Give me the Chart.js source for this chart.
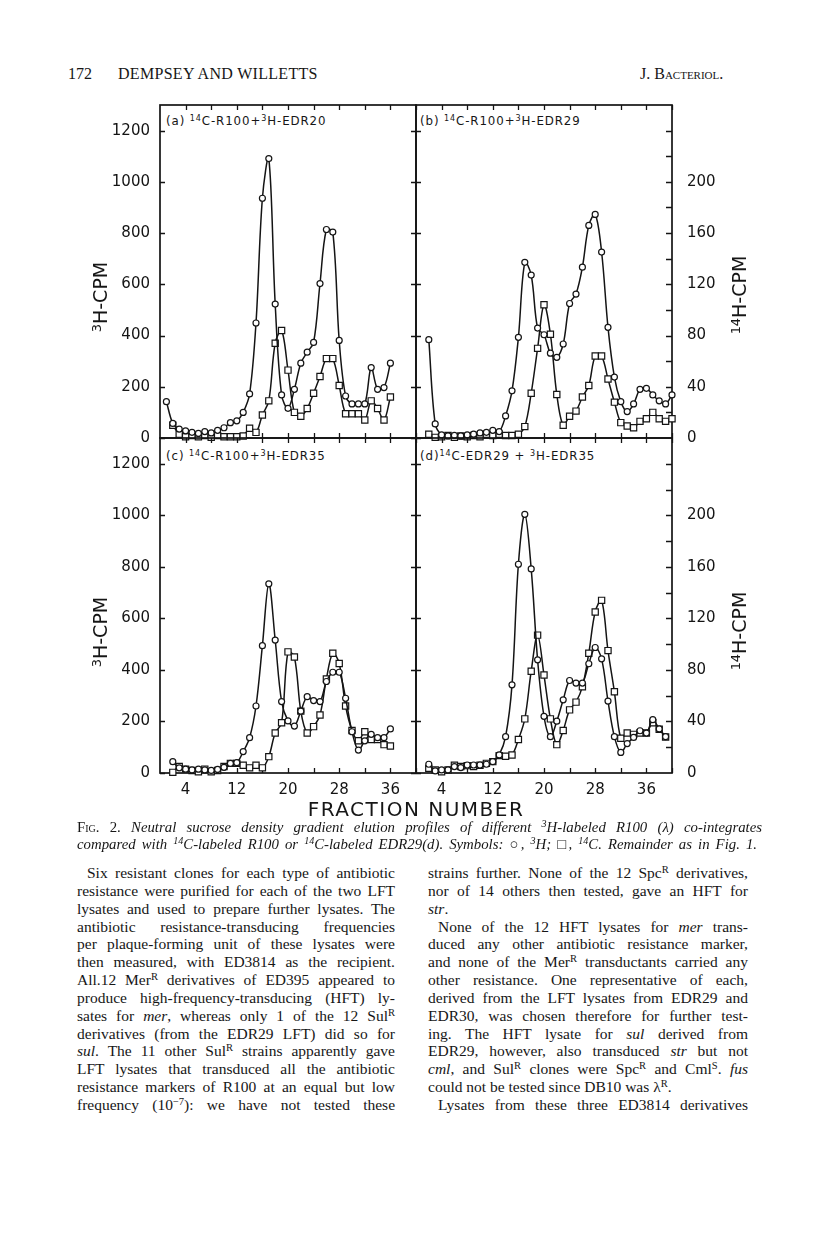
<!DOCTYPE html>
<html>
<head>
<meta charset="utf-8">
<script src="https://cdn.jsdelivr.net/npm/chart.js@4.4.1/dist/chart.umd.min.js"></script>
<style>
  body { margin: 0; background: #fff; }
  #page { position: relative; width: 816px; height: 1234px; color: #161616; font-family: 'Liberation Serif', serif; overflow: hidden; }
  canvas { position: absolute; }
  .abs { position: absolute; white-space: nowrap; z-index: 2; }
  sup { font-size: 0.68em; line-height: 0; vertical-align: 0.5em; }
  .hdr { font-size: 16px; top: 65px; }
  .plab { font-family: 'DejaVu Sans', sans-serif; font-size: 11.8px; letter-spacing: 0.9px; background: #fff; padding: 0 1px; }
  .ytitle { font-family: 'DejaVu Sans', sans-serif; font-size: 19px; transform: rotate(-90deg); transform-origin: center; }
  .xtitle { font-family: 'DejaVu Sans', sans-serif; font-size: 20px; letter-spacing: 1.5px; left: 300px; width: 232px; top: 797px; text-align: center; }
  .cap { left: 77px; width: 685px; font-size: 14.8px; font-style: italic; text-align: justify; text-align-last: justify; }
  .sc { font-style: normal; font-variant: small-caps; }
  .col { position: absolute; top: 864px; font-size: 15.5px; line-height: 17.85px; }
  .ln { white-space: nowrap; text-align: justify; text-align-last: justify; }
  .ln.end { text-align-last: left; }
  .ln.ind { padding-left: 10px; }
</style>
</head>
<body>
<div id="page">
  <div class="abs hdr" style="left:68px;">172</div>
  <div class="abs hdr" style="left:118px; letter-spacing:0.3px;">DEMPSEY AND WILLETTS</div>
  <div class="abs hdr" style="left:640px; font-variant:small-caps;">J. Bacteriol.</div>

  <div class="abs plab" style="left:165px; top:114px;">(a) <sup>14</sup>C-R100+<sup>3</sup>H-EDR20</div>
  <div class="abs plab" style="left:419px; top:114px;">(b) <sup>14</sup>C-R100+<sup>3</sup>H-EDR29</div>
  <div class="abs plab" style="left:165px; top:449px;">(c) <sup>14</sup>C-R100+<sup>3</sup>H-EDR35</div>
  <div class="abs plab" style="left:419px; top:449px;">(d)<sup>14</sup>C-EDR29 + <sup>3</sup>H-EDR35</div>

  <div class="abs ytitle" style="left:64px; top:286px; width:72px; text-align:center;"><sup>3</sup>H-CPM</div>
  <div class="abs ytitle" style="left:64px; top:621px; width:72px; text-align:center;"><sup>3</sup>H-CPM</div>
  <div class="abs ytitle" style="left:699px; top:284px; width:80px; text-align:center;"><sup>14</sup>H-CPM</div>
  <div class="abs ytitle" style="left:699px; top:620px; width:80px; text-align:center;"><sup>14</sup>H-CPM</div>

  <div class="abs xtitle">FRACTION NUMBER</div>

  <div class="abs cap" style="top:819px;"><span class="sc">Fig. 2.</span> Neutral sucrose density gradient elution profiles of different <sup>3</sup>H-labeled R100 (λ) co-integrates</div>
  <div class="abs cap" style="top:836px; width:680px;">compared with <sup>14</sup>C-labeled R100 or <sup>14</sup>C-labeled EDR29(d). Symbols: <span style="font-style:normal">○</span>, <sup>3</sup>H; <span style="font-style:normal">□</span>, <sup>14</sup>C. Remainder as in Fig. 1.</div>

  <div class="col" style="left:77px; width:318px;">
    <div class="ln ind">Six resistant clones for each type of antibiotic</div>
    <div class="ln">resistance were purified for each of the two LFT</div>
    <div class="ln">lysates and used to prepare further lysates. The</div>
    <div class="ln">antibiotic resistance-transducing frequencies</div>
    <div class="ln">per plaque-forming unit of these lysates were</div>
    <div class="ln">then measured, with ED3814 as the recipient.</div>
    <div class="ln">All.12 Mer<sup>R</sup> derivatives of ED395 appeared to</div>
    <div class="ln">produce high-frequency-transducing (HFT) ly-</div>
    <div class="ln">sates for <i>mer</i>, whereas only 1 of the 12 Sul<sup>R</sup></div>
    <div class="ln">derivatives (from the EDR29 LFT) did so for</div>
    <div class="ln"><i>sul</i>. The 11 other Sul<sup>R</sup> strains apparently gave</div>
    <div class="ln">LFT lysates that transduced all the antibiotic</div>
    <div class="ln">resistance markers of R100 at an equal but low</div>
    <div class="ln">frequency (10<sup>−7</sup>): we have not tested these</div>
  </div>
  <div class="col" style="left:428px; width:320px;">
    <div class="ln">strains further. None of the 12 Spc<sup>R</sup> derivatives,</div>
    <div class="ln">nor of 14 others then tested, gave an HFT for</div>
    <div class="ln end"><i>str</i>.</div>
    <div class="ln ind">None of the 12 HFT lysates for <i>mer</i> trans-</div>
    <div class="ln">duced any other antibiotic resistance marker,</div>
    <div class="ln">and none of the Mer<sup>R</sup> transductants carried any</div>
    <div class="ln">other resistance. One representative of each,</div>
    <div class="ln">derived from the LFT lysates from EDR29 and</div>
    <div class="ln">EDR30, was chosen therefore for further test-</div>
    <div class="ln">ing. The HFT lysate for <i>sul</i> derived from</div>
    <div class="ln">EDR29, however, also transduced <i>str</i> but not</div>
    <div class="ln"><i>cml</i>, and Sul<sup>R</sup> clones were Spc<sup>R</sup> and Cml<sup>S</sup>. <i>fus</i></div>
    <div class="ln end">could not be tested since DB10 was λ<sup>R</sup>.</div>
    <div class="ln ind">Lysates from these three ED3814 derivatives</div>
  </div>
</div>

<script>
// Fraction numbers and counts
const fracA = [1,2,3,4,5,6,7,8,9,10,11,12,13,14,15,16,17,18,19,20,21,22,23,24,25,26,27,28,29,30,31,32,33,34,35,36];
const h3A = [142,57,35,28,22,18,25,20,30,40,60,67,100,172,449,936,1091,523,168,116,190,292,335,373,603,814,804,381,164,133,133,133,275,190,197,292];
const c14A = [null,10,3,1,2,1,2,0.5,2,1,1,1,1.5,7.6,4.4,18,29,74,84,53,20,17,23,35,48,62,62,41,19,19,19,14,29,23,14,32];

const fracB = [2,3,4,5,6,7,8,9,10,11,12,13,14,15,16,17,18,19,20,21,22,23,24,25,26,27,28,29,30,31,32,33,34,35,36,37,38,39,40];
const h3B = [384,55,12,8,10,8,12,15,20,22,30,25,86,184,393,686,636,429,403,331,315,367,525,562,667,830,873,726,432,238,142,103,133,190,194,168,145,133,168];
const c14B = [2.9,0.5,1,2,0.5,1.5,1,2,1,3,2,3,2,2,2.9,8.9,35,70,104,81,34,10,17,21,32,41,64,64,46,28,12,9.4,8,13,15,20,15,13,15];

const fracC = [2,3,4,5,6,7,8,9,10,11,12,13,14,15,16,17,18,19,20,21,22,23,24,25,26,27,28,29,30,31,32,33,34,35,36];
const h3C = [44,20,15,12,15,12,10,14,22,37,40,83,137,260,494,734,516,277,202,182,240,296,281,277,355,391,391,290,160,89,125,150,137,137,171];
const c14C = [0.5,5,3,2,1,3,1,2,5,7.5,7.5,6,4,6,4,12.7,31,39,94,90,48,31,36,45,73,93,85,52,33,25,32,26,26,22,21];

const fracD = [2,3,4,5,6,7,8,9,10,11,12,13,14,15,16,17,18,19,20,21,22,23,24,25,26,27,28,29,30,31,32,33,34,35,36,37,38,39];
const h3D = [34,8,12,12,25,21,31,31,31,34,44,70,141,342,810,1004,792,439,220,141,201,284,359,349,349,424,487,443,279,141,80,114,138,164,155,207,171,141];
const c14D = [3.6,2.3,1,2.3,6,5,5.7,5,6,7.5,8.8,13.5,13,14,26,42,79,107,76,42,22,33,49,55,67,93,125,134,95,63,27,31,30,31,31,39,34,28];

// Axis ticks
const xTickLabels = [4,12,20,28,36];
const xEdgeTicks = [4,8,12,16,20,24,28,32,36,40];
const h3Ticks = [0,200,400,600,800,1000,1200];
const c14Ticks = [0,40,80,120,160,200];
const c14EdgeTicks = [20,40,60,80,100,120,140,160,180,200,220,240];

const INK = '#141414';
const PLOT = { left: 160, mid: 416, right: 672, top: 105, midY: 438, bottom: 773 };

function points(frac, vals) {
    return frac.map((f, i) => ({ x: f, y: vals[i] })).filter(p => p.y !== null);
}

// Border box and inward tick marks, placed from the chart's own scales
const framePlugin = {
    id: 'frame',
    beforeDatasetsDraw(chart, args, opts) {
        const { ctx, chartArea: a, scales } = chart;
        ctx.save();
        ctx.strokeStyle = INK;
        ctx.lineWidth = 1.7;
        ctx.strokeRect(a.left, a.top, a.right - a.left, a.bottom - a.top);
        ctx.lineWidth = 1.3;
        ctx.beginPath();
        xEdgeTicks.forEach(v => {
            const x = Math.round(scales.x.getPixelForValue(v)) + 0.5;
            ctx.moveTo(x, a.bottom); ctx.lineTo(x, a.bottom - 5);
            ctx.moveTo(x, a.top); ctx.lineTo(x, a.top + 5);
        });
        h3Ticks.forEach(v => {
            const y = Math.round(scales.y.getPixelForValue(v)) + 0.5;
            ctx.moveTo(a.left, y); ctx.lineTo(a.left + 5, y);
            if (!opts.rightAxis) { ctx.moveTo(a.right, y); ctx.lineTo(a.right - 5, y); }
        });
        if (opts.rightAxis) {
            c14EdgeTicks.forEach(v => {
                const y = Math.round(scales.y2.getPixelForValue(v)) + 0.5;
                ctx.moveTo(a.right, y); ctx.lineTo(a.right - 6, y);
            });
        }
        ctx.stroke();
        ctx.restore();
    }
};

function seriesStyle(style, radius) {
    return {
        borderColor: INK,
        borderWidth: 1.5,
        tension: 0.35,
        pointStyle: style,
        pointRadius: radius,
        pointBackgroundColor: '#fff',
        pointBorderColor: INK,
        pointBorderWidth: 1.2,
        clip: false
    };
}

// fixed axis box, no extra label overhang padding
function fixBox(size, horizontal) {
    return s => {
        if (horizontal) s.height = size; else s.width = size;
        s.paddingTop = 0; s.paddingBottom = 0; s.paddingLeft = 0; s.paddingRight = 0;
    };
}

function makePanel(cfg) {
    const left = cfg.showLeft ? 60 : 10;
    const right = cfg.showRight ? 70 : 10;
    const bottom = cfg.showX ? 32 : 10;
    const width = cfg.x1 - cfg.x0;
    const height = cfg.y1 - cfg.y0;

    const canvas = document.createElement('canvas');
    canvas.width = width + left + right;
    canvas.height = height + 10 + bottom;
    canvas.style.left = (cfg.x0 - left) + 'px';
    canvas.style.top = (cfg.y0 - 10) + 'px';
    document.getElementById('page').appendChild(canvas);

    const tickFont = { family: 'DejaVu Sans', size: 15 };
    const plain = v => String(v);

    new Chart(canvas.getContext('2d'), {
        type: 'line',
        data: {
            datasets: [
                Object.assign({ label: '3H', data: points(cfg.frac, cfg.h3), yAxisID: 'y' }, seriesStyle('circle', 3)),
                Object.assign({ label: '14C', data: points(cfg.frac, cfg.c14), yAxisID: 'y2' }, seriesStyle('rect', 4.4))
            ]
        },
        options: {
            responsive: false,
            animation: false,
            devicePixelRatio: 1,
            layout: { padding: { left: cfg.showLeft ? 0 : 10, right: cfg.showRight ? 0 : 10, top: 10, bottom: cfg.showX ? 0 : 10 } },
            plugins: {
                legend: { display: false },
                tooltip: { enabled: false },
                frame: { rightAxis: cfg.showRight }
            },
            scales: {
                x: {
                    type: 'linear', min: 0, max: 40,
                    display: cfg.showX,
                    grid: { display: false },
                    border: { display: false },
                    afterBuildTicks: s => { s.ticks = xTickLabels.map(v => ({ value: v })); },
                    afterFit: fixBox(cfg.showX ? 32 : 0, true),
                    ticks: { font: tickFont, color: INK, padding: 0, maxRotation: 0, autoSkip: false, callback: plain }
                },
                y: {
                    position: 'left', min: 0, max: 1300,
                    display: cfg.showLeft,
                    grid: { display: false },
                    border: { display: false },
                    afterBuildTicks: s => { s.ticks = h3Ticks.map(v => ({ value: v })); },
                    afterFit: fixBox(cfg.showLeft ? 60 : 0, false),
                    ticks: { font: tickFont, color: INK, padding: 2, callback: plain }
                },
                y2: {
                    position: 'right', min: 0, max: 260,
                    display: cfg.showRight,
                    grid: { display: false },
                    border: { display: false },
                    afterBuildTicks: s => { s.ticks = c14Ticks.map(v => ({ value: v })); },
                    afterFit: fixBox(cfg.showRight ? 70 : 0, false),
                    ticks: { font: tickFont, color: INK, padding: 7, callback: plain }
                }
            }
        },
        plugins: [framePlugin]
    });
}

makePanel({ frac: fracA, h3: h3A, c14: c14A, x0: PLOT.left, x1: PLOT.mid, y0: PLOT.top, y1: PLOT.midY, showLeft: true, showRight: false, showX: false });
makePanel({ frac: fracB, h3: h3B, c14: c14B, x0: PLOT.mid, x1: PLOT.right, y0: PLOT.top, y1: PLOT.midY, showLeft: false, showRight: true, showX: false });
makePanel({ frac: fracC, h3: h3C, c14: c14C, x0: PLOT.left, x1: PLOT.mid, y0: PLOT.midY, y1: PLOT.bottom, showLeft: true, showRight: false, showX: true });
makePanel({ frac: fracD, h3: h3D, c14: c14D, x0: PLOT.mid, x1: PLOT.right, y0: PLOT.midY, y1: PLOT.bottom, showLeft: false, showRight: true, showX: true });
</script>
</body>
</html>
